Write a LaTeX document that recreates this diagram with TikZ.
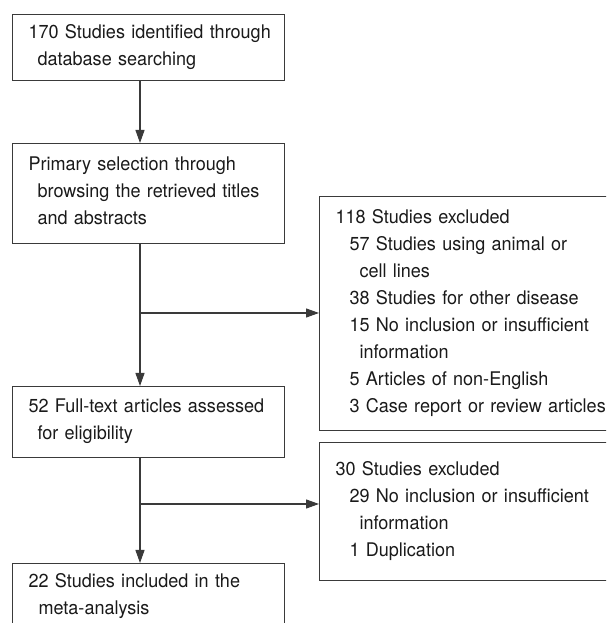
\documentclass[tikz,border=0pt]{standalone}
\usepackage{fontspec}
\setmainfont{TeX Gyre Heros}[FakeStretch=0.96]
\usetikzlibrary{arrows.meta}
\definecolor{lncol}{HTML}{3A3A3A}
\definecolor{txcol}{HTML}{1A1A1A}
\newcommand{\dstrut}{\rule[-6pt]{0pt}{6pt}}
\begin{document}
\begin{tikzpicture}[x=1pt,y=1pt,
  box/.style={draw=lncol, line width=1.1pt, anchor=north west, inner xsep=16pt, inner ysep=0pt,
    align=left, text=txcol, font=\fontsize{18.8}{27}\selectfont},
  arr/.style={draw=lncol, line width=1.1pt, -{Triangle[length=13pt,width=9pt]}}]
\useasboundingbox (0,0) rectangle (606,623);
\clip (0,0) rectangle (606,623);
\node[box, text width=240pt, minimum height=66pt] (b1) at (12,609)
  {\mbox{170 Studies identified through}\\\mbox{\hspace*{9pt}database searching}\dstrut};
\node[box, text width=240pt, minimum height=100pt] (b2) at (12,480)
  {\mbox{Primary selection through}\\\mbox{\hspace*{9pt}browsing the retrieved titles}\\\mbox{\hspace*{9pt}and abstracts}\dstrut};
\node[box, text width=240pt, minimum height=71pt] (b3) at (12,237)
  {\mbox{52 Full-text articles assessed}\\\mbox{\hspace*{9pt}for eligibility}\dstrut};
\node[box, text width=240pt, minimum height=67pt] (b4) at (12,60)
  {\mbox{22 Studies included in the}\\\mbox{\hspace*{10pt}meta-analysis}\dstrut};
\node[box, text width=300pt, minimum height=234pt] (r1) at (319,427)
  {\mbox{118 Studies excluded}\\
   \mbox{\hspace*{14pt}57 Studies using animal or}\\
   \mbox{\hspace*{24pt}cell lines}\\
   \mbox{\hspace*{14pt}38 Studies for other disease}\\
   \mbox{\hspace*{14pt}15 No inclusion or insufficient}\\
   \mbox{\hspace*{24pt}information}\\
   \mbox{\hspace*{14pt}5 Articles of non-English}\\
   \mbox{\hspace*{14pt}3 Case report or review articles}\dstrut};
\node[box, text width=300pt, minimum height=138pt] (r2) at (319,181)
  {\mbox{30 Studies excluded}\\
   \mbox{\hspace*{14pt}29 No inclusion or insufficient}\\
   \mbox{\hspace*{24pt}information}\\
   \mbox{\hspace*{14pt}1 Duplication}\dstrut};
\coordinate (ax) at (140,0);
\coordinate (j1) at (140,310);
\coordinate (j2) at (140,119);
\draw[arr] (b1.south -| ax) -- (b2.north -| ax);
\draw[arr] (b2.south -| ax) -- (b3.north -| ax);
\draw[arr] (j1) -- (r1.west |- j1);
\draw[arr] (b3.south -| ax) -- (b4.north -| ax);
\draw[arr] (j2) -- (r2.west |- j2);
\end{tikzpicture}
\end{document}
